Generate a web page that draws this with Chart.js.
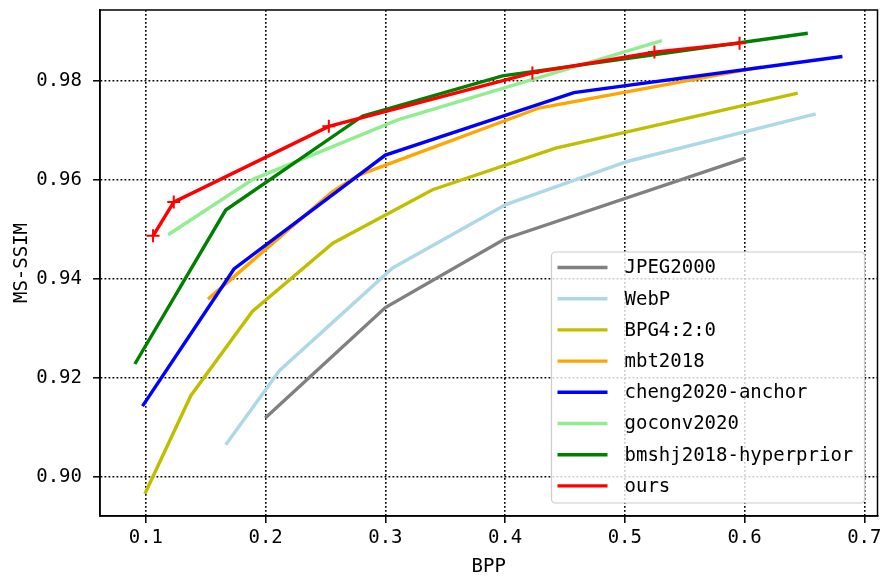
<!DOCTYPE html>
<html>
<head>
<meta charset="utf-8">
<script src="https://cdn.jsdelivr.net/npm/chart.js@4.4.0/dist/chart.umd.min.js"></script>
<style>
  html, body { margin: 0; padding: 0; background: #fff; }
  #wrap { width: 886px; height: 578px; }
</style>
</head>
<body>
<div id="wrap"><canvas id="chart"></canvas></div>
<script>
const FONT = "'DejaVu Sans Mono', 'Liberation Mono', monospace";

// ---- data ----
const labels = ["JPEG2000", "WebP", "BPG4:2:0", "mbt2018", "cheng2020-anchor", "goconv2020", "bmshj2018-hyperprior", "ours"];
const colors = ["#808080", "#add8e6", "#bfbf00", "#ffa500", "#0000ff", "#90ee90", "#008000", "#ff0000"];

const jpegX = [0.1997, 0.300, 0.400, 0.6006];
const jpegY = [0.9119, 0.9342, 0.9481, 0.9644];
const webpX = [0.1667, 0.2117, 0.3061, 0.4006, 0.5019, 0.6594];
const webpY = [0.9065, 0.9215, 0.9422, 0.9550, 0.9637, 0.9733];
const bpgX = [0.0992, 0.1375, 0.1889, 0.2561, 0.3394, 0.4422, 0.6444];
const bpgY = [0.8966, 0.9164, 0.9334, 0.9472, 0.9580, 0.9664, 0.9775];
const mbtX = [0.1519, 0.2558, 0.2783, 0.4283, 0.6144];
const mbtY = [0.9359, 0.9576, 0.9610, 0.9745, 0.9828];
const chengX = [0.0972, 0.1736, 0.300, 0.4575, 0.6817];
const chengY = [0.9143, 0.9420, 0.9650, 0.9776, 0.9849];
const goconvX = [0.1186, 0.1894, 0.3103, 0.531];
const goconvY = [0.9489, 0.9601, 0.9721, 0.9881];
const bmshjX = [0.0908, 0.1667, 0.2811, 0.3978, 0.6528];
const bmshjY = [0.9228, 0.9539, 0.9729, 0.9810, 0.9896];
const oursX = [0.106, 0.1233, 0.2528, 0.4228, 0.5247, 0.5958];
const oursY = [0.9487, 0.9555, 0.9708, 0.9816, 0.9858, 0.9876];

const xTicks = [0.1, 0.2, 0.3, 0.4, 0.5, 0.6, 0.7];
const xTickLabels = ["0.1", "0.2", "0.3", "0.4", "0.5", "0.6", "0.7"];
const yTicks = [0.90, 0.92, 0.94, 0.96, 0.98];
const yTickLabels = ["0.90", "0.92", "0.94", "0.96", "0.98"];

const seriesX = [jpegX, webpX, bpgX, mbtX, chengX, goconvX, bmshjX, oursX];
const seriesY = [jpegY, webpY, bpgY, mbtY, chengY, goconvY, bmshjY, oursY];

function pts(xs, ys) {
    return xs.map((x, i) => ({ x: x, y: ys[i] }));
}

const datasets = labels.map((name, i) => {
    const isOurs = name === "ours";
    return {
        label: name,
        data: pts(seriesX[i], seriesY[i]),
        borderColor: colors[i],
        backgroundColor: colors[i],
        borderWidth: 3.4,
        tension: 0,
        order: labels.length - i, // later series on top, like matplotlib
        pointStyle: isOurs ? "cross" : "circle",
        pointRadius: isOurs ? 6.5 : 0,
        pointBorderWidth: 2,
        pointBorderColor: colors[i],
        pointBackgroundColor: colors[i]
    };
});

/* spines + matplotlib-like legend box */
const boxLegend = {
    id: "boxLegend",
    afterDatasetsDraw(chart) {
        const { ctx, chartArea: a } = chart;
        ctx.save();
        ctx.strokeStyle = "#000";
        ctx.lineWidth = 1.5;
        ctx.strokeRect(a.left, a.top, a.right - a.left, a.bottom - a.top);

        const w = 313, h = 251;
        const x = a.right - w - 13, y = a.bottom - h - 13;
        ctx.fillStyle = "rgba(255,255,255,0.8)";
        ctx.strokeStyle = "#cccccc";
        ctx.lineWidth = 1.2;
        ctx.beginPath();
        ctx.roundRect(x, y, w, h, 4);
        ctx.fill();
        ctx.stroke();

        ctx.font = "19px " + FONT;
        ctx.textBaseline = "middle";
        ctx.fillStyle = "#000";
        chart.data.datasets.forEach((ds, i) => {
            const cy = y + 15.5 + i * 31.2;
            ctx.strokeStyle = ds.borderColor;
            ctx.lineWidth = 3.4;
            ctx.beginPath();
            ctx.moveTo(x + 6, cy);
            ctx.lineTo(x + 56, cy);
            ctx.stroke();
            ctx.fillText(ds.label, x + 73, cy + 1);
        });
        ctx.restore();
    }
};

Chart.defaults.color = "#000";
Chart.defaults.font.family = FONT;
Chart.defaults.font.size = 19;

const gridOpts = { color: "#000", lineWidth: 1.6, tickLength: 7, tickColor: "#000", tickWidth: 1.5 };
const borderOpts = { display: true, color: "#000", width: 1.5, dash: [1.8, 2.2] };

new Chart(document.getElementById("chart"), {
    type: "line",
    data: { datasets: datasets },
    plugins: [boxLegend],
    options: {
        responsive: true,
        maintainAspectRatio: false,
        animation: false,
        events: [],
        layout: { padding: { top: 10, right: 8, left: 0, bottom: 0 } },
        plugins: { legend: { display: false }, tooltip: { enabled: false } },
        scales: {
            x: {
                type: "linear",
                min: 0.0617,
                max: 0.711,
                afterBuildTicks: s => { s.ticks = xTicks.map(v => ({ value: v })); },
                afterFit: s => { s.height = 62; s.paddingLeft = 0; s.paddingRight = 0; },
                ticks: {
                    padding: 4,
                    maxRotation: 0,
                    callback: v => xTickLabels[xTicks.findIndex(t => Math.abs(t - v) < 1e-9)]
                },
                grid: gridOpts,
                border: borderOpts,
                title: { display: true, text: "BPP", padding: { top: 0, bottom: 0 } }
            },
            y: {
                type: "linear",
                min: 0.8921,
                max: 0.9943,
                afterBuildTicks: s => { s.ticks = yTicks.map(v => ({ value: v })); },
                afterFit: s => { s.width = 100; s.paddingTop = 0; s.paddingBottom = 0; },
                ticks: {
                    padding: 11,
                    callback: v => yTickLabels[yTicks.findIndex(t => Math.abs(t - v) < 1e-9)]
                },
                grid: gridOpts,
                border: borderOpts,
                title: { display: true, text: "MS-SSIM", padding: { top: 11, bottom: 0 } }
            }
        }
    }
});
</script>
</body>
</html>
